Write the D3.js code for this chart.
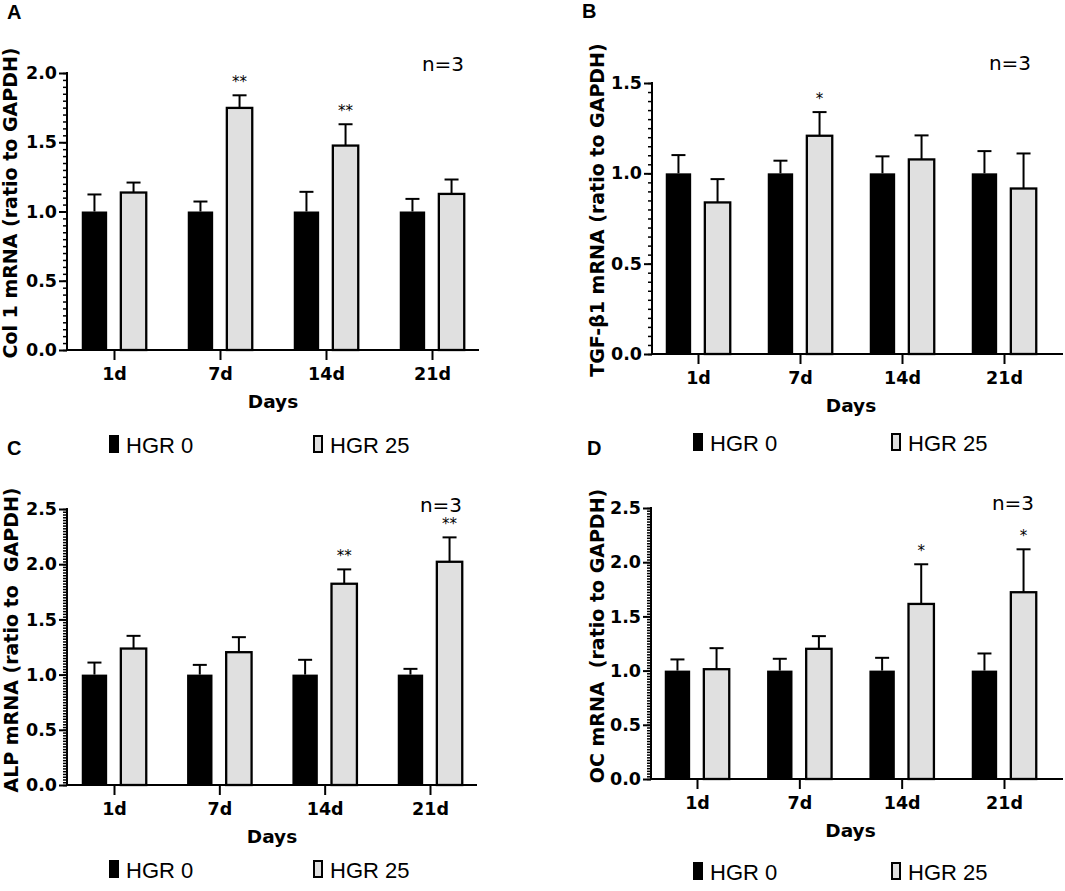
<!DOCTYPE html>
<html>
<head>
<meta charset="utf-8">
<script src="https://cdn.jsdelivr.net/npm/d3@7"></script>
<style>
  body { margin: 0; background: #fff; }
  svg text { font-family: "DejaVu Sans", sans-serif; }
  .pre { white-space: pre; }
</style>
</head>
<body>
<svg id="fig" width="1065" height="891"></svg>
<script>
// data (mean and SD, ratio to GAPDH)
const days = ['1d', '7d', '14d', '21d']
const groups = ['HGR 0', 'HGR 25']

const col1Mean0 = [1, 1, 1, 1]
const col1Sd0 = [0.123, 0.072, 0.142, 0.091]
const col1Mean25 = [1.137, 1.748, 1.476, 1.127]
const col1Sd25 = [0.072, 0.091, 0.154, 0.104]
const col1Stars = ['', '**', '**', '']

const tgfMean0 = [1, 1, 1, 1]
const tgfSd0 = [0.101, 0.070, 0.094, 0.123]
const tgfMean25 = [0.839, 1.208, 1.077, 0.916]
const tgfSd25 = [0.129, 0.131, 0.133, 0.194]
const tgfStars = ['', '*', '', '']

const alpMean0 = [1, 1, 1, 1]
const alpSd0 = [0.109, 0.088, 0.134, 0.052]
const alpMean25 = [1.236, 1.203, 1.823, 2.022]
const alpSd25 = [0.115, 0.136, 0.130, 0.221]
const alpStars = ['', '', '**', '**']

const ocMean0 = [1, 1, 1, 1]
const ocSd0 = [0.103, 0.109, 0.118, 0.158]
const ocMean25 = [1.013, 1.201, 1.615, 1.723]
const ocSd25 = [0.194, 0.117, 0.366, 0.396]
const ocStars = ['', '', '*', '*']

const ticks15 = [0, 0.5, 1.0, 1.5]
const ticks20 = [0, 0.5, 1.0, 1.5, 2.0]
const ticks25 = [0, 0.5, 1.0, 1.5, 2.0, 2.5]

const gray = '#e0e0e0'

// panel layouts
const panels = [
  { letter: 'A', lx: 7, ly: 19, title: 'Col 1 mRNA (ratio to GAPDH)', tx: 17, ty: 203,
    means: [col1Mean0, col1Mean25], sds: [col1Sd0, col1Sd25], stars: col1Stars,
    ticks: ticks20, minor: 0.05, x0: 67, xEnd: 479, xr: [114, 432], y0: 350, yTop: 73,
    nx: 443, ny: 71, legY: 435, legX: [109, 313] },
  { letter: 'B', lx: 582, ly: 18, title: 'TGF-β1 mRNA (ratio to GAPDH)', tx: 604, ty: 210,
    means: [tgfMean0, tgfMean25], sds: [tgfSd0, tgfSd25], stars: tgfStars,
    ticks: ticks15, minor: 0.05, x0: 652, xEnd: 1063, xr: [698, 1004], y0: 354, yTop: 83,
    nx: 1010, ny: 70, legY: 433, legX: [693, 891] },
  { letter: 'C', lx: 7, ly: 455, title: 'ALP mRNA (ratio to  GAPDH)', tx: 18, ty: 640,
    means: [alpMean0, alpMean25], sds: [alpSd0, alpSd25], stars: alpStars,
    ticks: ticks25, minor: 0.025, x0: 67, xEnd: 477, xr: [114, 430], y0: 785, yTop: 509,
    nx: 441, ny: 512, legY: 860, legX: [109, 313] },
  { letter: 'D', lx: 587, ly: 455, title: 'OC mRNA  (ratio to GAPDH)', tx: 604, ty: 636,
    means: [ocMean0, ocMean25], sds: [ocSd0, ocSd25], stars: ocStars,
    ticks: ticks25, minor: 0.025, x0: 651, xEnd: 1063, xr: [697, 1004], y0: 779, yTop: 508,
    nx: 1013, ny: 510, legY: 862, legX: [693, 891] }
]

const svg = d3.select('#fig')

function drawPanel (p) {
  const g = svg.append('g')
  const yMax = p.ticks[p.ticks.length - 1]
  const y = d3.scaleLinear().domain([0, yMax]).range([p.y0, p.yTop])
  const x = d3.scalePoint().domain(days).range(p.xr)
  const xg = d3.scaleBand().domain(groups).range([-32.25, 32.25]).paddingInner(0.35)

  const rows = days.flatMap((d, i) => groups.map((grp, j) => ({
    day: d, group: grp, j: j,
    mean: p.means[j][i], sd: p.sds[j][i],
    star: j === 1 ? p.stars[i] : ''
  })))

  // bars
  g.selectAll('rect.bar')
    .data(rows)
    .enter().append('rect')
      .attr('class', 'bar')
      .attr('x', d => x(d.day) + xg(d.group))
      .attr('y', d => y(d.mean))
      .attr('width', xg.bandwidth())
      .attr('height', d => y(0) - y(d.mean))
      .attr('fill', d => d.j === 0 ? '#000' : gray)
      .attr('stroke', '#000')
      .attr('stroke-width', d => d.j === 0 ? 0 : 2.3)

  // error bars (upper only)
  const cx = d => x(d.day) + xg(d.group) + xg.bandwidth() / 2
  g.selectAll('line.stem')
    .data(rows)
    .enter().append('line')
      .attr('x1', cx).attr('x2', cx)
      .attr('y1', d => y(d.mean)).attr('y2', d => y(d.mean + d.sd))
      .attr('stroke', '#000').attr('stroke-width', 2)
  g.selectAll('line.cap')
    .data(rows)
    .enter().append('line')
      .attr('x1', d => cx(d) - 7).attr('x2', d => cx(d) + 7)
      .attr('y1', d => y(d.mean + d.sd)).attr('y2', d => y(d.mean + d.sd))
      .attr('stroke', '#000').attr('stroke-width', 2)

  // significance stars
  g.selectAll('text.star')
    .data(rows.filter(d => d.star))
    .enter().append('text')
      .attr('x', cx)
      .attr('y', d => y(d.mean + d.sd) - 8)
      .attr('text-anchor', 'middle')
      .attr('font-size', 15)
      .text(d => d.star)

  // y axis: minor ticks then major ticks with labels
  const minorTicks = d3.range(0, yMax + 1e-9, p.minor)
  g.append('g')
    .attr('transform', `translate(${p.x0},0)`)
    .call(d3.axisLeft(y).tickValues(minorTicks).tickSize(4).tickFormat(''))
    .call(s => s.select('.domain').remove())
    .call(s => s.selectAll('line').attr('stroke-width', 1.5))
  const ya = g.append('g')
    .attr('transform', `translate(${p.x0},0)`)
    .call(d3.axisLeft(y).tickValues(p.ticks).tickSize(8).tickPadding(2).tickFormat(d3.format('.1f')))
  ya.select('.domain').remove()
  ya.selectAll('line').attr('stroke-width', 2)
  ya.selectAll('text').attr('font-size', 17.5).attr('font-weight', 'bold')
    .attr('font-family', '"DejaVu Sans", sans-serif').attr('fill', '#000')
  g.append('line')
    .attr('x1', p.x0).attr('x2', p.x0)
    .attr('y1', p.yTop - 1).attr('y2', p.y0 + 1)
    .attr('stroke', '#000').attr('stroke-width', 2)

  // x axis
  const xa = g.append('g')
    .attr('transform', `translate(0,${p.y0})`)
    .call(d3.axisBottom(x).tickSize(10).tickPadding(8))
  xa.select('.domain').remove()
  xa.selectAll('line').attr('stroke-width', 2)
  xa.selectAll('text').attr('font-size', 17.5).attr('font-weight', 'bold')
    .attr('font-family', '"DejaVu Sans", sans-serif').attr('fill', '#000')
  g.append('line')
    .attr('x1', p.x0 - 1).attr('x2', p.xEnd)
    .attr('y1', p.y0).attr('y2', p.y0)
    .attr('stroke', '#000').attr('stroke-width', 2)

  g.append('text')
    .attr('x', (p.xr[0] + p.xr[1]) / 2)
    .attr('y', p.y0 + 58)
    .attr('text-anchor', 'middle')
    .attr('font-size', 18.5).attr('font-weight', 'bold')
    .text('Days')

  // y title
  g.append('text')
    .attr('class', 'pre')
    .attr('transform', `translate(${p.tx},${p.ty}) rotate(-90)`)
    .attr('text-anchor', 'middle')
    .attr('font-size', 19).attr('font-weight', 'bold')
    .text(p.title)

  // n=3
  g.append('text')
    .attr('x', p.nx).attr('y', p.ny)
    .attr('text-anchor', 'middle')
    .attr('font-size', 20)
    .text('n=3')

  // panel letter
  g.append('text')
    .attr('x', p.lx).attr('y', p.ly)
    .style('font-family', '"Liberation Sans", Arial, sans-serif')
    .attr('font-size', 20).attr('font-weight', 'bold')
    .text(p.letter)

  // legend
  const leg = g.selectAll('g.leg')
    .data(groups)
    .enter().append('g')
      .attr('transform', (d, i) => `translate(${p.legX[i]},${p.legY})`)
  leg.append('rect')
    .attr('x', (d, i) => i === 0 ? 0 : 1)
    .attr('y', (d, i) => i === 0 ? 0 : 1)
    .attr('width', (d, i) => i === 0 ? 10 : 8)
    .attr('height', (d, i) => i === 0 ? 18 : 16)
    .attr('fill', (d, i) => i === 0 ? '#000' : gray)
    .attr('stroke', '#000')
    .attr('stroke-width', (d, i) => i === 0 ? 0 : 2)
  leg.append('text')
    .attr('x', 17).attr('y', 18)
    .style('font-family', '"Liberation Sans", Arial, sans-serif')
    .attr('font-size', 22)
    .text(d => d)
}

panels.forEach(drawPanel)
</script>
</body>
</html>
